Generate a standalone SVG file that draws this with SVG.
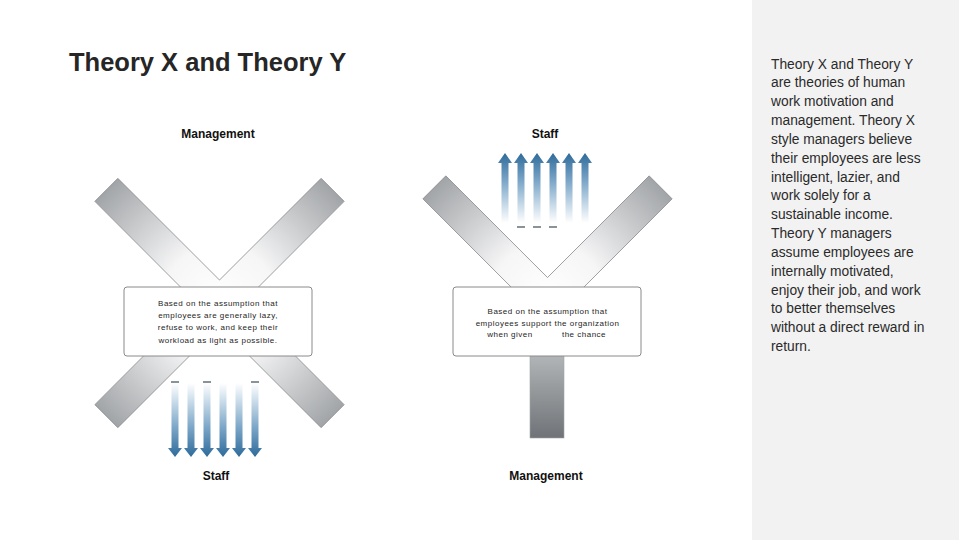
<svg xmlns="http://www.w3.org/2000/svg" width="959" height="540" viewBox="0 0 959 540">
<style>
.bar{fill:url(#barGrad);stroke:#8c8f92;stroke-width:0.8}
.box{fill:#ffffff;stroke:#8a8a8a;stroke-width:1}
.btxt{font-family:"Liberation Sans",Arial,sans-serif;font-size:8px;letter-spacing:0.5px;fill:#1e1e1e;text-anchor:middle}
.lbl{font-family:"Liberation Sans",Arial,sans-serif;font-size:12px;font-weight:bold;fill:#111;text-anchor:middle}
.title{font-family:"Liberation Sans",Arial,sans-serif;font-size:25.5px;font-weight:bold;fill:#262626}
.side{font-family:"Liberation Sans",Arial,sans-serif;font-size:13.8px;fill:#2a2a2a}
.dn{fill:url(#gDown)}
.up{fill:url(#gUp)}
.tick{stroke:#4b5963;stroke-width:1.3}
</style>
<defs>
<radialGradient id="barGrad" gradientUnits="userSpaceOnUse" cx="0" cy="0" r="165">
<stop offset="0" stop-color="#ffffff"/>
<stop offset="0.35" stop-color="#f6f6f7"/>
<stop offset="1" stop-color="#9ea1a4"/>
</radialGradient>
<linearGradient id="stemGrad" x1="0" y1="0" x2="0" y2="1">
<stop offset="0" stop-color="#cfd1d3"/>
<stop offset="1" stop-color="#6f7377"/>
</linearGradient>
<linearGradient id="gDown" x1="0" y1="0" x2="0" y2="1">
<stop offset="0" stop-color="#ffffff"/>
<stop offset="0.25" stop-color="#c9dbe9"/>
<stop offset="0.6" stop-color="#7ba6c8"/>
<stop offset="1" stop-color="#2f6b9a"/>
</linearGradient>
<linearGradient id="gUp" x1="0" y1="1" x2="0" y2="0">
<stop offset="0" stop-color="#ffffff"/>
<stop offset="0.25" stop-color="#c9dbe9"/>
<stop offset="0.6" stop-color="#7ba6c8"/>
<stop offset="1" stop-color="#2f6b9a"/>
</linearGradient>
<path id="adown" class="dn" d="M-3.5,0 H3.5 V65 H7 L0,74 L-7,65 H-3.5 Z"/>
<path id="aup" class="up" d="M0,0 L7,10 H3.5 V70 H-3.5 V10 H-7 Z"/>
</defs>
<rect x="0" y="0" width="959" height="540" fill="#ffffff"/>
<rect x="752" y="0" width="207" height="540" fill="#f2f2f2"/>
<text class="title" x="69" y="71">Theory X and Theory Y</text>

<g id="theory-x">
<g transform="translate(219.5,303) rotate(45)">
<polygon class="bar" points="160,16.25 16.25,16.25 16.25,160 -16.25,160 -16.25,16.25 -160,16.25 -160,-16.25 -16.25,-16.25 -16.25,-160 16.25,-160 16.25,-16.25 160,-16.25"/>
</g>
</g>

<g id="theory-y">
<rect x="530" y="320" width="34" height="118" fill="url(#stemGrad)" stroke="#a0a3a6" stroke-width="0.6"/>
<g transform="translate(547.5,300.5) rotate(45)">
<polygon class="bar" points="-160,-16.25 -16.25,-16.25 -16.25,-160 16.25,-160 16.25,16.25 -160,16.25"/>
</g>
</g>

<g id="box-x">
<rect class="box" x="124" y="287" width="188" height="69" rx="3"/>
<text class="btxt" x="218" y="306">Based on the assumption that</text>
<text class="btxt" x="218" y="318">employees are generally lazy,</text>
<text class="btxt" x="218" y="330">refuse to work, and keep their</text>
<text class="btxt" x="218" y="343">workload as light as possible.</text>
</g>

<g id="box-y">
<rect class="box" x="453" y="287" width="188" height="69" rx="3"/>
<text class="btxt" x="547.5" y="314">Based on the assumption that</text>
<text class="btxt" x="547.5" y="325.5">employees support the organization</text>
<text class="btxt" x="510" y="337">when given</text>
<text class="btxt" x="584" y="337">the chance</text>
</g>

<g id="labels">
<text class="lbl" x="218" y="137.5">Management</text>
<text class="lbl" x="545" y="137.5">Staff</text>
<text class="lbl" x="216" y="479.5">Staff</text>
<text class="lbl" x="546" y="479.5">Management</text>
</g>

<g id="connectors">
<use href="#adown" x="175" y="383"/>
<use href="#adown" x="191" y="383"/>
<use href="#adown" x="207" y="383"/>
<use href="#adown" x="223" y="383"/>
<use href="#adown" x="239" y="383"/>
<use href="#adown" x="255" y="383"/>
<line class="tick" x1="171" y1="382" x2="179" y2="382"/>
<line class="tick" x1="203" y1="382" x2="211" y2="382"/>
<line class="tick" x1="251" y1="382" x2="259" y2="382"/>
<use href="#aup" x="505" y="153"/>
<use href="#aup" x="521" y="153"/>
<use href="#aup" x="537" y="153"/>
<use href="#aup" x="553" y="153"/>
<use href="#aup" x="569" y="153"/>
<use href="#aup" x="585" y="153"/>
<line class="tick" x1="517" y1="227" x2="525" y2="227"/>
<line class="tick" x1="533" y1="227" x2="541" y2="227"/>
<line class="tick" x1="549" y1="227" x2="557" y2="227"/>
</g>

<g id="description">
<text class="side" x="771" y="68.5">Theory X and Theory Y</text>
<text class="side" x="771" y="87.3">are theories of human</text>
<text class="side" x="771" y="106.2">work motivation and</text>
<text class="side" x="771" y="125">management. Theory X</text>
<text class="side" x="771" y="143.8">style managers believe</text>
<text class="side" x="771" y="162.7">their employees are less</text>
<text class="side" x="771" y="181.5">intelligent, lazier, and</text>
<text class="side" x="771" y="200.3">work solely for a</text>
<text class="side" x="771" y="219.2">sustainable income.</text>
<text class="side" x="771" y="238">Theory Y managers</text>
<text class="side" x="771" y="256.8">assume employees are</text>
<text class="side" x="771" y="275.7">internally motivated,</text>
<text class="side" x="771" y="294.5">enjoy their job, and work</text>
<text class="side" x="771" y="313.3">to better themselves</text>
<text class="side" x="771" y="332.2">without a direct reward in</text>
<text class="side" x="771" y="351">return.</text>
</g>
</svg>
